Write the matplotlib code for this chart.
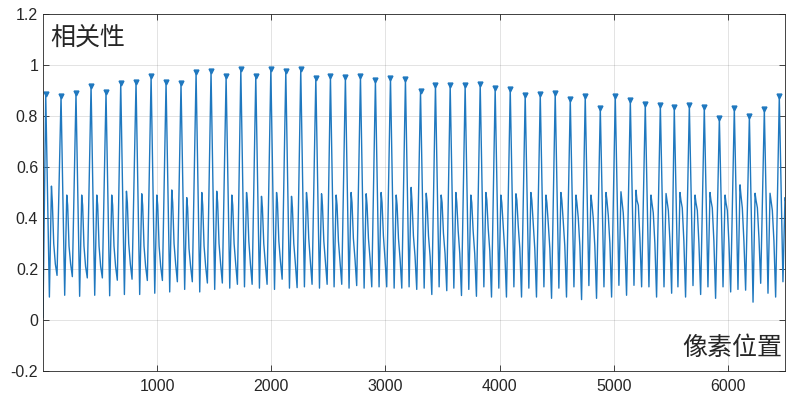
import numpy as np
import matplotlib
matplotlib.use('Agg')
import matplotlib.pyplot as plt
from matplotlib import rcParams

rcParams['font.family'] = ['Liberation Sans', 'Noto Sans CJK SC']
rcParams['font.size'] = 11.5
rcParams['axes.linewidth'] = 0.6

# Data.

# Peak positions (pixel index) and correlation values at each marked peak.
peak_x = [24, 158, 289, 421, 552, 681, 815, 947, 1078, 1209,
          1341, 1472, 1604, 1733, 1864, 1996, 2127, 2258, 2390, 2518,
          2649, 2781, 2912, 3044, 3175, 3307, 3438, 3567, 3698, 3830,
          3961, 4093, 4224, 4356, 4487, 4619, 4750, 4882, 5013, 5145,
          5276, 5408, 5530, 5662, 5793, 5925, 6056, 6188, 6319, 6450]
peak_y = [0.885, 0.878, 0.889, 0.919, 0.894, 0.930, 0.934, 0.957, 0.933, 0.929,
          0.971, 0.976, 0.955, 0.984, 0.957, 0.984, 0.976, 0.983, 0.950, 0.955,
          0.953, 0.955, 0.941, 0.950, 0.946, 0.899, 0.923, 0.920, 0.920, 0.925,
          0.908, 0.907, 0.884, 0.885, 0.891, 0.866, 0.878, 0.832, 0.879, 0.861,
          0.847, 0.843, 0.834, 0.842, 0.836, 0.793, 0.832, 0.800, 0.826, 0.879]

# Values of the waveform after each peak: deep minimum, secondary bump,
# notch, shoulder, knee and the minimum before the next peak.
low1_y = [0.09, 0.097, 0.093, 0.097, 0.095, 0.10, 0.10, 0.105, 0.11, 0.12,
          0.11, 0.12, 0.125, 0.13, 0.125, 0.12, 0.125, 0.13, 0.125, 0.13,
          0.125, 0.125, 0.13, 0.125, 0.13, 0.125, 0.13, 0.125, 0.12, 0.13,
          0.125, 0.13, 0.125, 0.13, 0.125, 0.13, 0.135, 0.13, 0.136, 0.136,
          0.13, 0.13, 0.13, 0.135, 0.13, 0.13, 0.12, 0.07, 0.105, 0.15]
bump_y = [0.525, 0.49, 0.49, 0.49, 0.49, 0.505, 0.495, 0.49, 0.51, 0.48,
          0.50, 0.505, 0.49, 0.50, 0.485, 0.50, 0.485, 0.50, 0.495, 0.49,
          0.50, 0.495, 0.50, 0.49, 0.52, 0.497, 0.49, 0.50, 0.49, 0.50,
          0.49, 0.495, 0.50, 0.49, 0.50, 0.49, 0.49, 0.50, 0.503, 0.509,
          0.49, 0.496, 0.50, 0.49, 0.50, 0.49, 0.53, 0.497, 0.497, 0.48]
notch_y = [0.46, 0.45, 0.45, 0.45, 0.45, 0.46, 0.45, 0.45, 0.46, 0.44,
           0.45, 0.46, 0.45, 0.46, 0.44, 0.46, 0.44, 0.46, 0.45, 0.45,
           0.46, 0.45, 0.46, 0.45, 0.46, 0.46, 0.46, 0.46, 0.46, 0.47,
           0.46, 0.47, 0.47, 0.46, 0.47, 0.46, 0.46, 0.47, 0.47, 0.47,
           0.46, 0.47, 0.47, 0.46, 0.47, 0.46, 0.49, 0.47, 0.47, 0.46]
shoulder_y = [0.30, 0.29, 0.29, 0.29, 0.29, 0.30, 0.29, 0.29, 0.30, 0.28,
              0.29, 0.30, 0.30, 0.31, 0.30, 0.31, 0.30, 0.32, 0.31, 0.31,
              0.32, 0.32, 0.33, 0.32, 0.33, 0.33, 0.34, 0.35, 0.35, 0.36,
              0.37, 0.37, 0.38, 0.38, 0.39, 0.40, 0.40, 0.41, 0.42, 0.45,
              0.42, 0.43, 0.44, 0.43, 0.44, 0.43, 0.44, 0.44, 0.43, 0.42]
knee_y = [0.22, 0.22, 0.21, 0.21, 0.21, 0.22, 0.21, 0.21, 0.22, 0.21,
          0.21, 0.22, 0.22, 0.22, 0.22, 0.23, 0.22, 0.23, 0.23, 0.23,
          0.24, 0.24, 0.24, 0.24, 0.25, 0.25, 0.26, 0.26, 0.26, 0.27,
          0.27, 0.28, 0.28, 0.28, 0.29, 0.29, 0.29, 0.30, 0.30, 0.32,
          0.30, 0.31, 0.31, 0.30, 0.31, 0.30, 0.31, 0.32, 0.31, 0.30]
low2_y = [0.175, 0.17, 0.165, 0.165, 0.156, 0.16, 0.155, 0.155, 0.15, 0.15,
          0.145, 0.145, 0.14, 0.14, 0.14, 0.16, 0.127, 0.14, 0.14, 0.14,
          0.135, 0.13, 0.13, 0.125, 0.12, 0.10, 0.115, 0.096, 0.093, 0.09,
          0.09, 0.09, 0.09, 0.085, 0.09, 0.08, 0.085, 0.09, 0.097, 0.13,
          0.09, 0.105, 0.09, 0.10, 0.085, 0.11, 0.117, 0.144, 0.09, 0.14]

# Where each of those values sits after its peak (in pixels).
shape_dx = [0, 32, 50, 58, 70, 84, 99]

start_x, start_y = 0, 0.01

x_ticks = [1000, 2000, 3000, 4000, 5000, 6000]
y_ticks = [-0.2, 0, 0.2, 0.4, 0.6, 0.8, 1.0, 1.2]
y_labels = ['-0.2', '0', '0.2', '0.4', '0.6', '0.8', '1', '1.2']

# Build the line through the read vertices.
xs = [start_x]
ys = [start_y]
for i in range(len(peak_x)):
    vals = [peak_y[i], low1_y[i], bump_y[i], notch_y[i],
            shoulder_y[i], knee_y[i], low2_y[i]]
    for dx, v in zip(shape_dx, vals):
        xs.append(peak_x[i] + dx)
        ys.append(v)

# Plot.

fig = plt.figure(figsize=(7.86, 3.95), dpi=100)
ax = fig.add_axes([43 / 786, 1 - 371 / 395, 742 / 786, 357 / 395])

blue = '#1f78bf'
ax.plot(xs, ys, color=blue, linewidth=1.0)
ax.plot(peak_x, peak_y, linestyle='none', marker='v', markersize=3.5,
        color=blue)

ax.set_xlim(0, 6500)
ax.set_ylim(-0.2, 1.2)
ax.set_xticks(x_ticks)
ax.set_yticks(y_ticks)
ax.set_yticklabels(y_labels)

ax.grid(True, color='#262626', alpha=0.15, linewidth=0.6)
ax.set_axisbelow(True)
for spine in ax.spines.values():
    spine.set_color('#262626')
ax.tick_params(direction='in', top=True, right=True, length=4,
               width=0.6, color='#262626', labelcolor='#262626')
ax.tick_params(axis='x', pad=6)

ax.text(0.0095, 0.933, '相关性', transform=ax.transAxes, ha='left',
        va='center', fontsize=18, family='Noto Sans CJK SC', color='#262626')
ax.text(0.997, 0.064, '像素位置', transform=ax.transAxes, ha='right',
        va='center', fontsize=18, family='Noto Sans CJK SC', color='#262626')

plt.savefig('out.png', dpi=100)
